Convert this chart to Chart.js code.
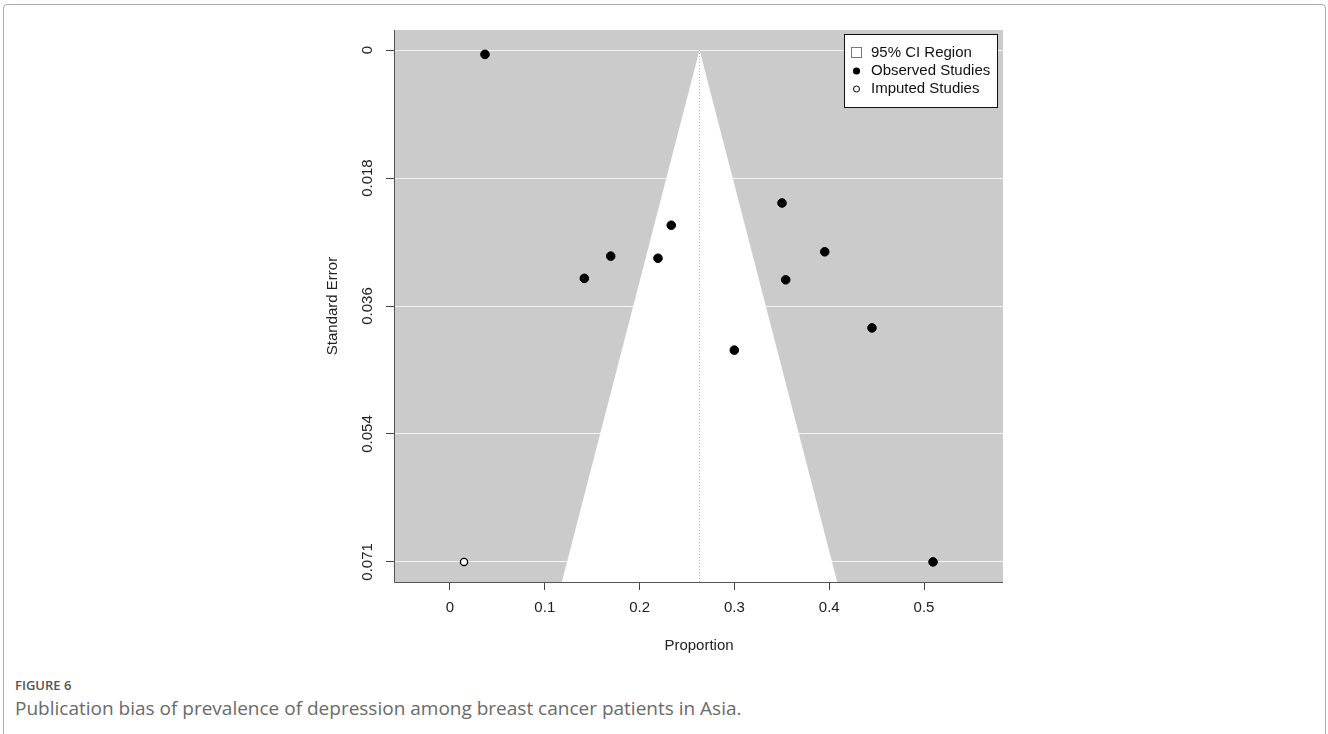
<!DOCTYPE html>
<html lang="en">
<head>
    <meta charset="UTF-8">
    <title>Funnel plot - Figure 6</title>
    <script src="https://cdn.jsdelivr.net/npm/chart.js@4.4.1/dist/chart.umd.min.js"></script>
    <style>
        body { margin: 0; background: #fff; width: 1328px; height: 734px; overflow: hidden; position: relative; }
        #frame { position: absolute; left: 3px; top: 4px; width: 1321px; height: 800px; border: 1px solid #a9aab2; border-radius: 4px; }
        #chart-wrap { position: absolute; left: 0; top: 0; width: 1328px; height: 660px; }
        .fig-label { position: absolute; left: 15px; top: 676px; font: 600 13px "Open Sans", sans-serif; color: #555; }
        .fig-caption { position: absolute; left: 15px; top: 695px; font: 400 19px "Open Sans", sans-serif; color: #6a6a6a; }
    </style>
</head>
<body>
    <div id="frame"></div>
    <div id="chart-wrap"><canvas id="funnel" width="1328" height="660"></canvas></div>
    <div class="fig-label">FIGURE 6</div>
    <div class="fig-caption">Publication bias of prevalence of depression among breast cancer patients in Asia.</div>
    <script>
        // values
        const xTicks = [0, 0.1, 0.2, 0.3, 0.4, 0.5];
        const seTicks = [0, 0.01783, 0.03565, 0.05348, 0.0713];
        const seTickLabels = ['0', '0.018', '0.036', '0.054', '0.071'];

        const observedProp = [0.0369, 0.2334, 0.1695, 0.2194, 0.1417, 0.3502, 0.3953, 0.3541, 0.4451, 0.2999, 0.5095];
        const observedSE = [0.0006, 0.0244, 0.0287, 0.0290, 0.0318, 0.0213, 0.0281, 0.0320, 0.0387, 0.0418, 0.0713];
        const imputedProp = [0.0148];
        const imputedSE = [0.0713];

        const pooled = 0.2632;
        const funnelSE = [0, 0.0741];

        const font = '"Liberation Sans", Arial, sans-serif';

        const leftEdge = funnelSE.map(se => ({ x: pooled - 1.96 * se, y: se }));
        const rightEdge = funnelSE.map(se => ({ x: pooled + 1.96 * se, y: se }));
        const centerLine = funnelSE.map(se => ({ x: pooled, y: se }));

        const funnelPlugin = {
            id: 'funnelExtras',
            beforeDraw(chart) {
                const { ctx, chartArea } = chart;
                ctx.save();
                ctx.fillStyle = '#cbcbcb';
                ctx.fillRect(chartArea.left, chartArea.top, chartArea.right - chartArea.left, chartArea.bottom - chartArea.top);
                ctx.restore();
            },
            afterDraw(chart) {
                const { ctx, chartArea } = chart;
                const ys = chart.scales.y;
                ctx.save();
                ctx.strokeStyle = '#555';
                ctx.lineWidth = 1;
                ctx.beginPath();
                ctx.moveTo(chartArea.left - 0.5, chartArea.bottom + 0.5);
                ctx.lineTo(chartArea.right, chartArea.bottom + 0.5);
                ctx.moveTo(chartArea.left - 0.5, chartArea.top);
                ctx.lineTo(chartArea.left - 0.5, chartArea.bottom + 0.5);
                ctx.stroke();

                // rotated y tick labels
                ctx.fillStyle = '#222';
                ctx.font = '15px ' + font;
                ctx.textAlign = 'center';
                ctx.textBaseline = 'middle';
                seTicks.forEach((v, i) => {
                    ctx.save();
                    ctx.translate(368, ys.getPixelForValue(v));
                    ctx.rotate(-Math.PI / 2);
                    ctx.fillText(seTickLabels[i], 0, 0);
                    ctx.restore();
                });

                // axis titles
                const midX = (chartArea.left + chartArea.right) / 2;
                const midY = (chartArea.top + chartArea.bottom) / 2;
                ctx.fillText('Proportion', midX, 646);
                ctx.save();
                ctx.translate(333, midY);
                ctx.rotate(-Math.PI / 2);
                ctx.fillText('Standard Error', 0, 0);
                ctx.restore();

                // legend box
                const lx = 844, ly = 34, lw = 153, lh = 73;
                ctx.fillStyle = '#fff';
                ctx.fillRect(lx, ly, lw, lh);
                ctx.strokeStyle = '#111';
                ctx.strokeRect(lx + 0.5, ly + 0.5, lw, lh);
                ctx.textAlign = 'left';
                ctx.fillStyle = '#111';
                ctx.fillText('95% CI Region', 871, 53);
                ctx.fillText('Observed Studies', 871, 71);
                ctx.fillText('Imputed Studies', 871, 89);
                ctx.strokeStyle = '#777';
                ctx.strokeRect(851.5, 47.5, 10, 10);
                ctx.fillStyle = '#000';
                ctx.beginPath();
                ctx.arc(856.5, 71, 3.6, 0, Math.PI * 2);
                ctx.fill();
                ctx.strokeStyle = '#000';
                ctx.beginPath();
                ctx.arc(856.5, 89, 3, 0, Math.PI * 2);
                ctx.stroke();
                ctx.restore();
            }
        };

        new Chart(document.getElementById('funnel'), {
            type: 'scatter',
            data: {
                datasets: [
                    {
                        label: 'Observed Studies',
                        data: observedProp.map((p, i) => ({ x: p, y: observedSE[i] })),
                        backgroundColor: '#000',
                        borderColor: '#000',
                        pointRadius: 4.3,
                        order: 0
                    },
                    {
                        label: 'Imputed Studies',
                        data: imputedProp.map((p, i) => ({ x: p, y: imputedSE[i] })),
                        backgroundColor: '#fff',
                        borderColor: '#000',
                        borderWidth: 1.3,
                        pointRadius: 3.6,
                        order: 0
                    },
                    {
                        type: 'line',
                        label: 'center',
                        data: centerLine,
                        indexAxis: 'y',
                        borderColor: '#aaa',
                        borderWidth: 1,
                        borderDash: [1, 2],
                        pointRadius: 0,
                        fill: false,
                        order: 1
                    },
                    {
                        type: 'line',
                        label: '95% CI Region',
                        data: leftEdge,
                        indexAxis: 'y',
                        borderWidth: 0,
                        borderColor: '#fff',
                        backgroundColor: '#fff',
                        pointRadius: 0,
                        fill: '+1',
                        order: 2
                    },
                    {
                        type: 'line',
                        label: 'right edge',
                        data: rightEdge,
                        indexAxis: 'y',
                        borderWidth: 0,
                        borderColor: '#fff',
                        pointRadius: 0,
                        fill: false,
                        order: 2
                    }
                ]
            },
            options: {
                responsive: false,
                animation: false,
                devicePixelRatio: 1,
                layout: { padding: { top: 30, right: 325, left: 0, bottom: 0 } },
                plugins: { legend: { display: false }, tooltip: { enabled: false } },
                scales: {
                    x: {
                        type: 'linear',
                        min: -0.058,
                        max: 0.5833,
                        afterFit: s => { s.height = 78; },
                        afterBuildTicks: s => { s.ticks = xTicks.map(v => ({ value: v })); },
                        border: { display: false },
                        grid: { drawOnChartArea: false, drawTicks: true, tickLength: 8, tickColor: '#444' },
                        ticks: {
                            padding: 9,
                            color: '#222',
                            font: { family: font, size: 15 },
                            callback: v => String(v)
                        }
                    },
                    y: {
                        type: 'linear',
                        reverse: true,
                        min: -0.0028,
                        max: 0.0741,
                        afterFit: s => { s.width = 395; },
                        afterBuildTicks: s => { s.ticks = seTicks.map(v => ({ value: v })); },
                        border: { display: false },
                        grid: { color: '#f4f4f4', lineWidth: 1, drawTicks: true, tickLength: 9, tickColor: '#444' },
                        ticks: { display: false }
                    }
                }
            },
            plugins: [funnelPlugin]
        });
    </script>
</body>
</html>
